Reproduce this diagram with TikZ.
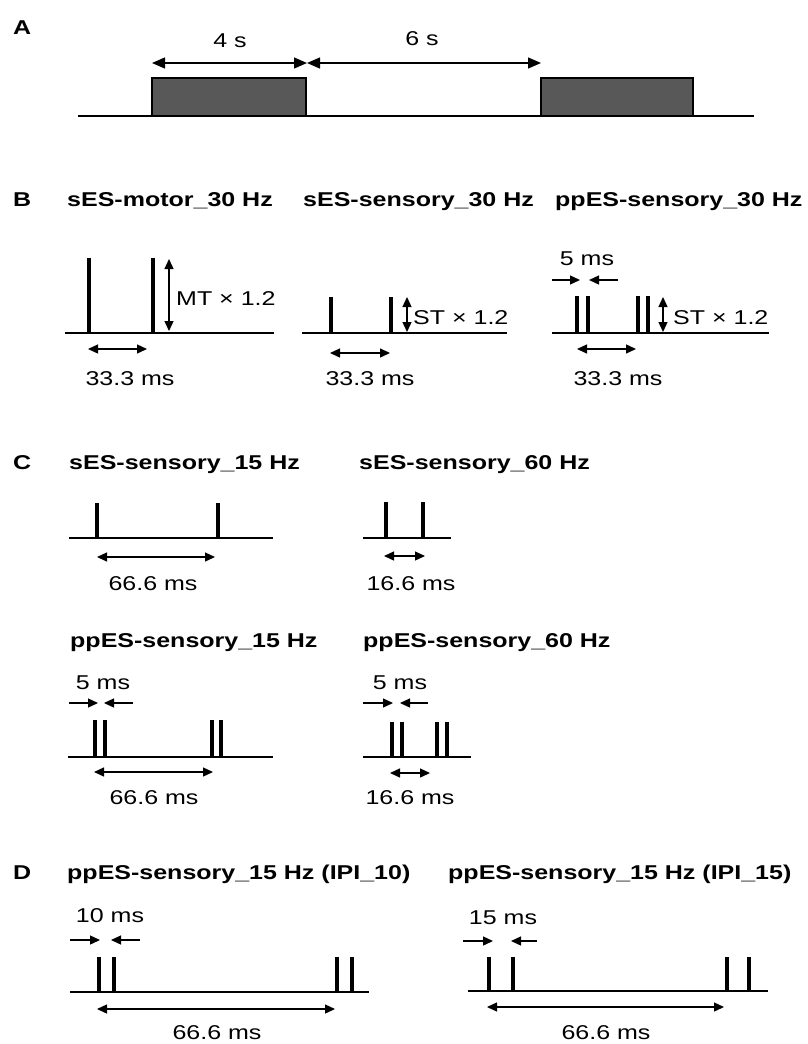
\documentclass[tikz,border=0pt]{standalone}
\usepackage{fontspec}
\setmainfont[FakeStretch=1.25]{Liberation Sans}
\usetikzlibrary{arrows.meta}
\definecolor{blockgray}{RGB}{88,88,88}
\begin{document}
\begin{tikzpicture}[x=1pt,y=-1pt,
  axisline/.style={line width=2pt},
  pulse/.style={line width=4pt},
  dimarrow/.style={line width=1.3pt,{Triangle[length=10pt,width=9pt]}-{Triangle[length=10pt,width=9pt]}},
  bigdim/.style={line width=1.3pt,{Triangle[length=13pt,width=11pt]}-{Triangle[length=13pt,width=11pt]}},
  tiparrow/.style={line width=1.3pt,-{Triangle[length=10pt,width=9pt]}},
  block/.style={draw=black,line width=1.5pt,fill=blockgray},
  panel/.style={font=\fontsize{20}{24}\selectfont\bfseries,anchor=base west,inner sep=0pt},
  head/.style={font=\fontsize{20}{24}\selectfont\bfseries,anchor=base west,inner sep=0pt},
  lbl/.style={font=\fontsize{20}{24}\selectfont,anchor=base,inner sep=0pt},
  lblw/.style={font=\fontsize{20}{24}\selectfont,anchor=base west,inner sep=0pt}]
\useasboundingbox (0,0) rectangle (807,1044);

% ---------------- A: stimulation blocks ----------------
\node[panel] (pA) at (13,34) {A};
\draw[block] (152,78) rectangle (306,116);
\draw[block] (541,78) rectangle (693,116);
\draw[axisline] (78,116) -- (754,116);
\coordinate (a1) at (152,63);
\coordinate (a2) at (307,63);
\coordinate (a3) at (541,63);
\draw[bigdim] (a1) -- (a2);
\draw[bigdim] (a2) -- (a3);
\node[lbl] (on) at (230,47) {4 s};
\node[lbl] (off) at (422,45) {6 s};

% ---------------- B: 30 Hz protocols ----------------
\node[panel] (pB) at (13,206) {B};
\node[head] (tB1) at (67,206) {sES-motor\_30 Hz};
\node[head] (tB2) at (303,206) {sES-sensory\_30 Hz};
\node[head] (tB3) at (555,206) {ppES-sensory\_30 Hz};

% motor
\draw[axisline] (65,333) -- (274,333);
\foreach \x in {89,153} \draw[pulse] (\x,258) -- (\x,333);
\draw[dimarrow] (169,259) -- (169,331);
\node[lblw] (mt) at (176,305) {MT × 1.2};
\draw[dimarrow] (88,349) -- (147,349);
\node[lbl] (iB1) at (130,385) {33.3 ms};

% sensory
\draw[axisline] (302,333) -- (507,333);
\foreach \x in {331,391} \draw[pulse] (\x,297) -- (\x,333);
\draw[dimarrow] (407,297) -- (407,332);
\node[lblw] (st1) at (413,324) {ST × 1.2};
\draw[dimarrow] (330,353) -- (390,353);
\node[lbl] (iB2) at (370,385) {33.3 ms};

% paired-pulse sensory
\draw[axisline] (552,333) -- (769,333);
\foreach \x in {577,588,638,648} \draw[pulse] (\x,296) -- (\x,333);
\draw[dimarrow] (663,297) -- (663,332);
\node[lblw] (st2) at (673,324) {ST × 1.2};
\draw[dimarrow] (577,349) -- (636,349);
\node[lbl] (iB3) at (618,385) {33.3 ms};
\node[lbl] (ppB) at (587,265) {5 ms};
\draw[tiparrow] (552,280) -- (580,280);
\draw[tiparrow] (618,280) -- (589,280);

% ---------------- C: 15 Hz and 60 Hz ----------------
\node[panel] (pC) at (13,469) {C};
\node[head] (tC1) at (69,469) {sES-sensory\_15 Hz};
\node[head] (tC2) at (359,469) {sES-sensory\_60 Hz};
\node[head] (tC3) at (70,647) {ppES-sensory\_15 Hz};
\node[head] (tC4) at (363,647) {ppES-sensory\_60 Hz};

% single 15 Hz
\draw[axisline] (69,538) -- (273,538);
\foreach \x in {97,218} \draw[pulse] (\x,503) -- (\x,538);
\draw[dimarrow] (97,557) -- (215,557);
\node[lbl] (iC1) at (153,590) {66.6 ms};

% single 60 Hz
\draw[axisline] (363,538) -- (451,538);
\foreach \x in {386,423} \draw[pulse] (\x,502) -- (\x,538);
\draw[dimarrow] (384,556) -- (425,556);
\node[lbl] (iC2) at (411,590) {16.6 ms};

% paired 15 Hz
\node[lbl] (ppC1) at (103,689) {5 ms};
\draw[tiparrow] (69,703) -- (98,703);
\draw[tiparrow] (133,703) -- (104,703);
\draw[axisline] (68,757) -- (273,757);
\foreach \x in {95,105,212,221} \draw[pulse] (\x,720) -- (\x,757);
\draw[dimarrow] (94,772) -- (213,772);
\node[lbl] (iC3) at (154,804) {66.6 ms};

% paired 60 Hz
\node[lbl] (ppC2) at (400,689) {5 ms};
\draw[tiparrow] (363,703) -- (393,703);
\draw[tiparrow] (428,703) -- (400,703);
\draw[axisline] (363,757) -- (471,757);
\foreach \x in {392,402,437,447} \draw[pulse] (\x,722) -- (\x,757);
\draw[dimarrow] (390,773) -- (430,773);
\node[lbl] (iC4) at (410,804) {16.6 ms};

% ---------------- D: inter-pulse intervals ----------------
\node[panel] (pD) at (13,879) {D};
\node[head] (tD1) at (67,879) {ppES-sensory\_15 Hz (IPI\_10)};
\node[head] (tD2) at (448,879) {ppES-sensory\_15 Hz (IPI\_15)};

% IPI 10 ms
\node[lbl] (ppD1) at (110,922) {10 ms};
\draw[tiparrow] (70,940) -- (100,940);
\draw[tiparrow] (140,940) -- (111,940);
\draw[axisline] (70,992) -- (369,992);
\foreach \x in {99,114,337,352} \draw[pulse] (\x,957) -- (\x,992);
\draw[dimarrow] (97,1009) -- (335,1009);
\node[lbl] (iD1) at (217,1039) {66.6 ms};

% IPI 15 ms
\node[lbl] (ppD2) at (503,924) {15 ms};
\draw[tiparrow] (463,941) -- (493,941);
\draw[tiparrow] (537,941) -- (511,941);
\draw[axisline] (468,991) -- (768,991);
\foreach \x in {489,513,727,749} \draw[pulse] (\x,957) -- (\x,991);
\draw[dimarrow] (487,1007) -- (724,1007);
\node[lbl] (iD2) at (606,1039) {66.6 ms};
\end{tikzpicture}
\end{document}
